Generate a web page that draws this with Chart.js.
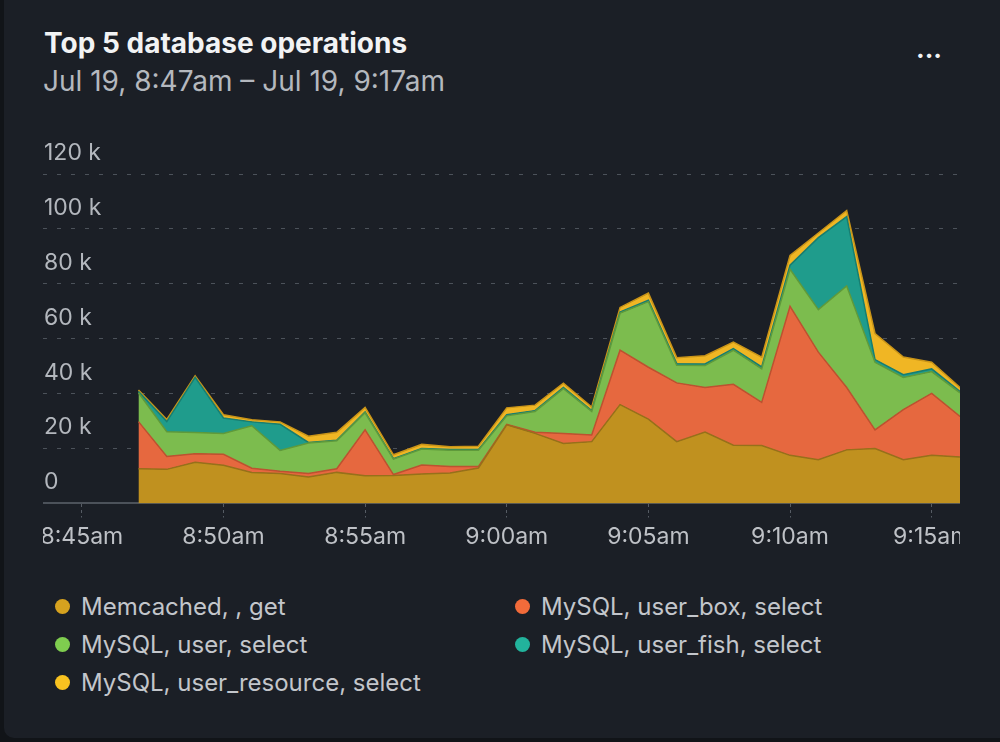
<!DOCTYPE html>
<html>
<head>
<meta charset="utf-8">
<script src="https://cdn.jsdelivr.net/npm/chart.js@4.4.1/dist/chart.umd.min.js"></script>
<style>
  body { margin: 0; background: #111418; font-family: Inter, sans-serif; }
  #card { position: relative; width: 1000px; height: 742px; overflow: hidden; }
  #panel { position: absolute; left: 4px; top: 0; right: 0; bottom: 4px; background: #1b1f26; border-bottom-left-radius: 10px; }
  #ttl { position: absolute; left: 44px; top: 26px; font-size: 28px; font-weight: 700; color: #f2f3f4; }
  #sub { position: absolute; left: 43px; top: 64px; font-size: 28px; color: #b4b8be; }
  #more { position: absolute; left: 916px; top: 33px; font-size: 26px; font-weight: 700; color: #f2f3f4; }
  #wrap { position: absolute; left: 43px; top: 120px; width: 917px; height: 447px; }
  #leg { position: absolute; left: 55px; top: 587px; display: grid; grid-template-columns: 460px 460px; }
  .it { height: 38.3px; display: flex; align-items: center; font-size: 24px; color: #c3c6cb; }
  .dt { width: 15px; height: 15px; border-radius: 50%; margin-right: 11px; }
</style>
</head>
<body>
<div id="card">
  <div id="panel"></div>
  <div id="ttl">Top 5 database operations</div>
  <div id="sub">Jul 19, 8:47am – Jul 19, 9:17am</div>
  <div id="more">...</div>
  <div id="wrap"><canvas id="area-chart"></canvas></div>
  <div id="leg"></div>
</div>
<script>
// one point per minute, 8:47 -> 9:16
var times = ["8:47", "8:48", "8:49", "8:50", "8:51", "8:52", "8:53", "8:54", "8:55", "8:56",
  "8:57", "8:58", "8:59", "9:00", "9:01", "9:02", "9:03", "9:04", "9:05", "9:06",
  "9:07", "9:08", "9:09", "9:10", "9:11", "9:12", "9:13", "9:14", "9:15", "9:16"];

var memcachedGet = [12600, 12400, 15000, 13900, 11300, 10900, 9600, 11300, 10100, 10200,
  10700, 11100, 12900, 28600, 25500, 21800, 22500, 36000, 30700, 22500,
  26000, 21200, 21100, 17500, 15900, 19500, 20000, 15900, 17500, 16900];
var userBoxSelect = [17200, 4700, 3100, 4000, 1500, 800, 1300, 1300, 16700, 300,
  3300, 2300, 500, 200, 400, 3700, 2400, 19800, 18900, 21400,
  16200, 22200, 15700, 54300, 39200, 22700, 6800, 18300, 22600, 14800];
var userSelect = [10500, 9000, 7700, 7600, 15500, 7600, 11100, 10200, 6200, 5600,
  5800, 6000, 6000, 3100, 7600, 16300, 8600, 13500, 23900, 6400,
  8000, 12400, 12200, 13500, 15500, 37000, 24600, 11700, 7900, 8600];
var userFishSelect = [500, 3700, 20100, 5600, 1400, 9500, 200, 200, 300, 200,
  200, 200, 200, 400, 300, 400, 300, 400, 500, 600,
  600, 600, 700, 1500, 26200, 25300, 1000, 1000, 1000, 500];
var userResourceSelect = [500, 800, 600, 1200, 800, 900, 2300, 2900, 1700, 1400,
  1500, 1000, 1200, 2500, 2000, 1600, 1300, 1700, 2600, 2200,
  3000, 2400, 3600, 3500, 1700, 2200, 9500, 6400, 2400, 1400];

var yTicks = [0, 20000, 40000, 60000, 80000, 100000, 120000];

// bottom of the stack first
var series = [
  { label: "Memcached, , get", data: memcachedGet, fill: "#c0911f", edge: "#97701a", dot: "#d6a21f" },
  { label: "MySQL, user_box, select", data: userBoxSelect, fill: "#e6683f", edge: "#bd5230", dot: "#f26b3a" },
  { label: "MySQL, user, select", data: userSelect, fill: "#7cbc4e", edge: "#5f9a3b", dot: "#7fcd4f" },
  { label: "MySQL, user_fish, select", data: userFishSelect, fill: "#1f9c8c", edge: "#177e71", dot: "#22b39c" },
  { label: "MySQL, user_resource, select", data: userResourceSelect, fill: "#f0b624", edge: "#c99418", dot: "#f8c220" }
];

const toMin = (t) => {
  let p = t.split(":");
  return Number(p[0]) * 60 + Number(p[1]);
};
const fmtMin = (v) => {
  let h = Math.floor(v / 60);
  let m = v % 60;
  return h + ":" + String(m).padStart(2, "0") + "am";
};

let gridCol = "#4c525a";
let txtCol = "#b3b7bd";

let areas = new Chart(document.getElementById("area-chart"), {
  type: "line",
  data: {
    datasets: series.map((s, i) => ({
      label: s.label,
      data: s.data.map((v, k) => ({ x: toMin(times[k]), y: v })),
      backgroundColor: s.fill,
      borderColor: s.edge,
      borderWidth: 1.5,
      pointRadius: 0,
      tension: 0,
      fill: i === 0 ? "origin" : "-1",
    })),
  },
  options: {
    animation: false,
    responsive: true,
    maintainAspectRatio: false,
    layout: { padding: { top: 54, bottom: 10, left: 0, right: 0 } },
    plugins: { legend: { display: false }, tooltip: { enabled: false } },
    scales: {
      x: {
        type: "linear",
        min: toMin("8:43") + 0.63,
        max: toMin("9:16"),
        grid: {
          drawOnChartArea: false,
          drawTicks: true,
          tickLength: 14,
          tickColor: "#565c64",
          tickBorderDash: [3, 3],
        },
        border: { display: true, color: gridCol, width: 2 },
        ticks: {
          stepSize: 5,
          includeBounds: false,
          autoSkip: false,
          maxRotation: 0,
          padding: 6,
          color: "#bec1c6",
          font: { family: "Inter", size: 23 },
          callback: (v) => fmtMin(v),
        },
        afterFit: (sc) => {
          sc.paddingLeft = 0;
          sc.paddingRight = 0;
        },
      },
      y: {
        stacked: true,
        min: 0,
        max: 120000,
        afterBuildTicks: (sc) => {
          sc.ticks = yTicks.map((v) => ({ value: v }));
        },
        grid: {
          drawTicks: false,
          color: (c) => (c.tick && c.tick.value === 0 ? "rgba(0,0,0,0)" : gridCol),
        },
        border: { display: false, dash: [4, 10] },
        ticks: {
          mirror: true,
          padding: 1,
          labelOffset: -21,
          color: txtCol,
          font: { family: "Inter", size: 23 },
          callback: (v) => (v === 0 ? "0" : v / 1000 + " k"),
        },
        afterFit: (sc) => {
          sc.paddingTop = 0;
          sc.paddingBottom = 0;
          sc.width = 0;
        },
      },
    },
  },
});

// html legend, two columns, same order as the original
let leg = document.getElementById("leg");
let legOrder = [0, 1, 2, 3, 4];
legOrder.forEach((i) => {
  let s = series[i];
  let it = document.createElement("div");
  it.className = "it";
  it.innerHTML = '<span class="dt" style="background:' + s.dot + '"></span>' + areas.data.datasets[i].label;
  leg.appendChild(it);
});
</script>
</body>
</html>
